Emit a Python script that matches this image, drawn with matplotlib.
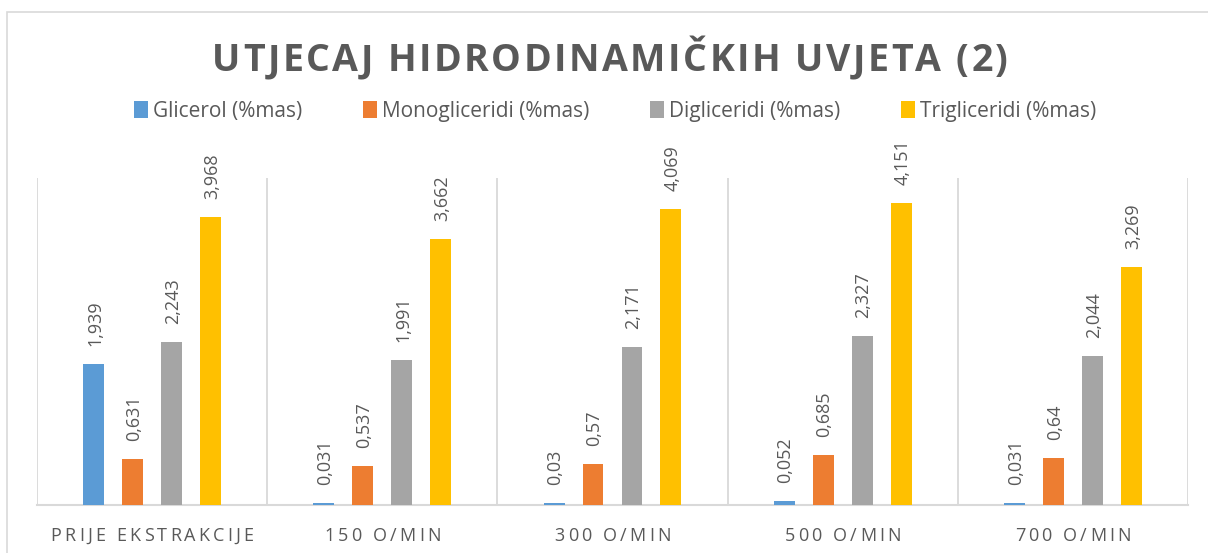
import matplotlib
matplotlib.use("Agg")
import matplotlib.pyplot as plt
import numpy as np
from matplotlib.patches import Rectangle
from matplotlib.font_manager import FontProperties, findfont, get_font
from matplotlib.ft2font import LoadFlags

# ---- data ----
categories = ["PRIJE EKSTRAKCIJE", "150 O/MIN", "300 O/MIN", "500 O/MIN", "700 O/MIN"]
series_names = ["Glicerol (%mas)", "Monogliceridi (%mas)", "Digliceridi (%mas)", "Trigliceridi (%mas)"]
glicerol = [1.939, 0.031, 0.03, 0.052, 0.031]
monogliceridi = [0.631, 0.537, 0.57, 0.685, 0.64]
digliceridi = [2.243, 1.991, 2.171, 2.327, 2.044]
trigliceridi = [3.968, 3.662, 4.069, 4.151, 3.269]
title = "UTJECAJ HIDRODINAMIČKIH UVJETA (2)"

series = [glicerol, monogliceridi, digliceridi, trigliceridi]
colors = ["#5B9BD5", "#ED7D31", "#A5A5A5", "#FFC000"]
text_color = "#595959"
line_color = "#D9D9D9"

W, H, DPI = 1208, 553, 100
fig = plt.figure(figsize=(W / DPI, H / DPI), dpi=DPI)
fig.patch.set_facecolor("white")


def advances(s, prop, dpi):
    font = get_font(findfont(prop))
    font.set_size(prop.get_size_in_points(), dpi)
    out = []
    for ch in s:
        g = font.load_char(ord(ch), flags=LoadFlags.NO_HINTING)
        out.append(g.linearHoriAdvance / 65536)
    return out


def spaced_text(cx_px, base_px, s, prop, track_px, color):
    """Draw a string centred at cx_px with extra tracking between letters."""
    adv = advances(s, prop, fig.dpi)
    total = sum(adv) + track_px * (len(s) - 1)
    x = cx_px - total / 2
    for ch, a in zip(s, adv):
        if not ch.isspace():
            fig.text(x / W, 1 - base_px / H, ch, fontproperties=prop,
                     color=color, ha="left", va="baseline")
        x += a + track_px


# chart frame
fig.add_artist(Rectangle((7.5 / W, -0.2), 1.2, 1.2 - 12 / H,
                         transform=fig.transFigure, fill=False,
                         edgecolor=line_color, linewidth=1.2))

# plot area
left, right, top, base = 37, 1188, 178, 505
ax = fig.add_axes([left / W, 1 - base / H, (right - left) / W, (base - top) / H])
n = len(categories)
x = np.arange(n)
step = 0.1694
width = 0.0912
bars = []
for i, (vals, c, name) in enumerate(zip(series, colors, series_names)):
    b = ax.bar(x + (i - 1.5) * step, vals, width, color=c, label=name, zorder=3)
    bars.append(b)
    for xi, v in zip(x + (i - 1.5) * step, vals):
        ax.annotate(str(v).replace(".", ","), xy=(xi, v), xytext=(1, 13),
                    textcoords="offset points", rotation=90, ha="center",
                    va="bottom", fontsize=13, family="Open Sans", color=text_color)

ax.set_xlim(-0.5, n - 0.5)
ax.set_ylim(0, 4.5)
ax.set_yticks([])
ax.set_xticks(np.arange(-0.5, n, 1.0))
ax.set_xticklabels([])
ax.tick_params(axis="x", length=0)
ax.grid(axis="x", color=line_color, linewidth=1.3, zorder=0)
for s in ["top", "right", "left"]:
    ax.spines[s].set_visible(False)
ax.spines["bottom"].set_color(line_color)
ax.spines["bottom"].set_linewidth(1.5)
ax.set_facecolor("none")

# category labels with letter spacing
cat_prop = FontProperties(family="Open Sans", size=13)
for xi, lab in zip(x, categories):
    cx = ax.transData.transform((xi, 0))[0]
    spaced_text(cx, 541, lab, cat_prop, 3.2, text_color)

# title
title_prop = FontProperties(family="Open Sans", weight="bold", size=27)
spaced_text(610, 71, title, title_prop, 2.5, text_color)

# legend
fig.legend(handles=bars, labels=series_names, loc="center",
           bbox_to_anchor=(615 / W, 1 - 111 / H), ncol=4, frameon=False,
           prop=FontProperties(family="Open Sans", size=15),
           labelcolor=text_color, handlelength=0.68, handleheight=0.9,
           handletextpad=0.25, columnspacing=2.9, borderpad=0, borderaxespad=0)

fig.savefig("out.png", dpi=DPI, facecolor="white")
